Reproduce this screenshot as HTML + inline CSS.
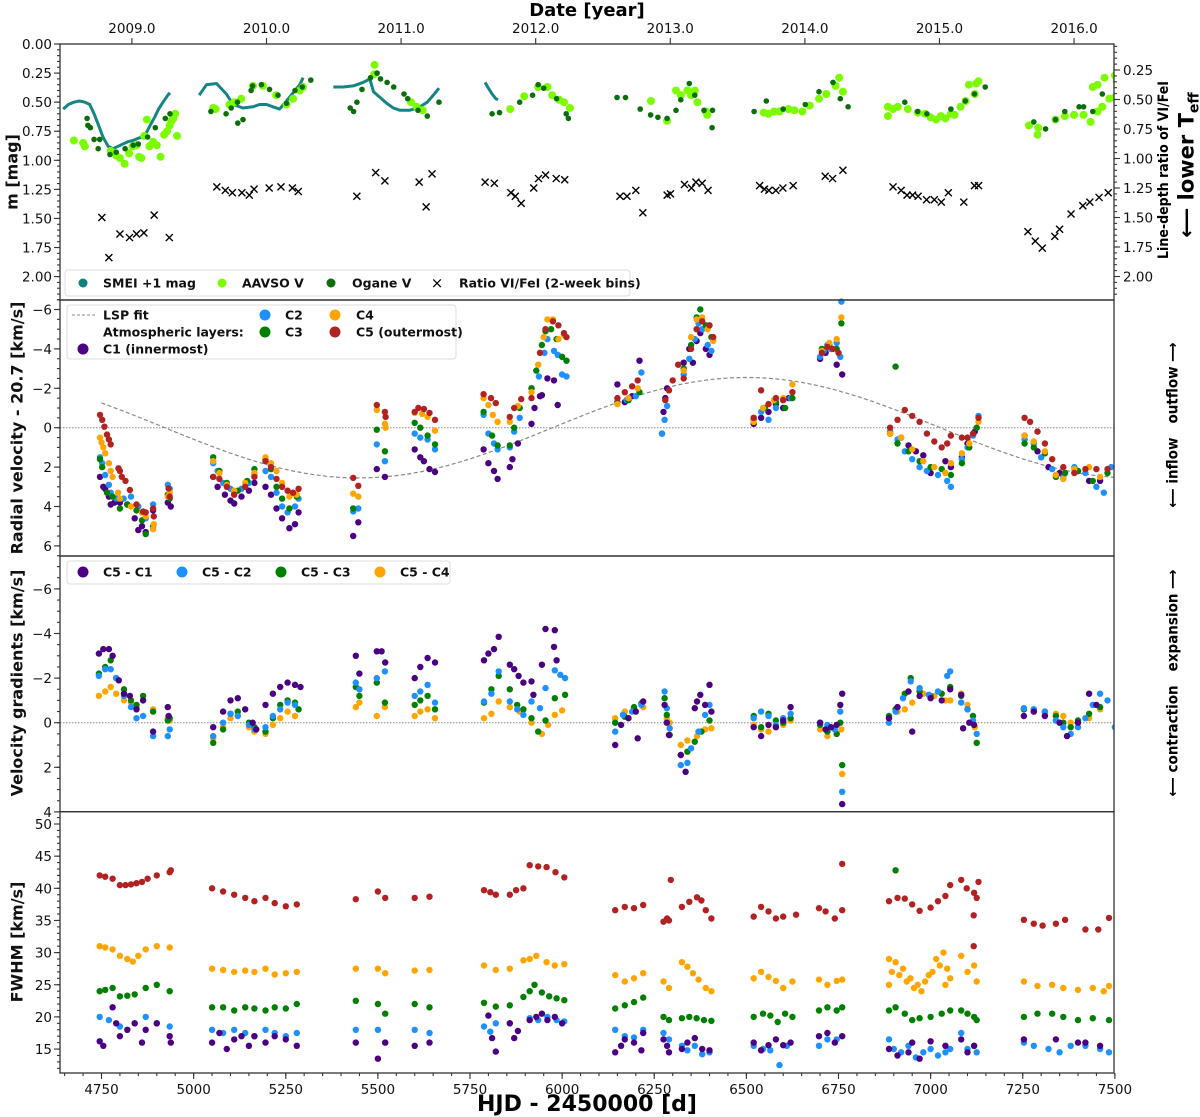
<!DOCTYPE html>
<html><head><meta charset="utf-8"><style>
html,body{margin:0;padding:0;background:#fff}
svg{display:block;font-family:"DejaVu Sans","Liberation Sans",sans-serif}
.tl{font-size:13.5px;fill:#111}
.lg{font-size:12.5px;font-weight:bold;fill:#111}
.al{font-size:16px;font-weight:bold;fill:#111}
</style></head><body>
<svg id="chart" width="1200" height="1117" viewBox="0 0 1200 1117" xmlns="http://www.w3.org/2000/svg">
<rect x="0" y="0" width="1200" height="1117" fill="#fff"/>
<g id="marks"></g>
<g id="axes"></g>
<text x="587" y="16" text-anchor="middle" font-size="18" font-weight="bold">Date [year]</text>
<text x="587" y="1111" text-anchor="middle" font-size="22" font-weight="bold">HJD - 2450000 [d]</text>
<text class="al" transform="translate(12,172) rotate(-90)" text-anchor="middle" dy="0.35em">m [mag]</text>
<text class="al" transform="translate(17,428) rotate(-90)" text-anchor="middle" dy="0.35em">Radial velocity - 20.7 [km/s]</text>
<text class="al" transform="translate(17,683) rotate(-90)" text-anchor="middle" dy="0.35em">Velocity gradients [km/s]</text>
<text class="al" transform="translate(17,942) rotate(-90)" text-anchor="middle" dy="0.35em">FWHM [km/s]</text>
<text transform="translate(1163,170) rotate(-90)" text-anchor="middle" dy="0.35em" font-size="14" font-weight="bold" font-stretch="condensed">Line-depth ratio of VI/FeI</text>
<text transform="translate(1186,165) rotate(-90)" text-anchor="middle" dy="0.35em" font-size="21" font-weight="bold">⟵ lower T<tspan font-size="14" dy="5">eff</tspan></text>
<text transform="translate(1172,425) rotate(-90)" text-anchor="middle" dy="0.35em" font-size="15" font-weight="bold" font-stretch="condensed" xml:space="preserve">⟵ inflow   outflow ⟶</text>
<text transform="translate(1172,683) rotate(-90)" text-anchor="middle" dy="0.35em" font-size="15" font-weight="bold" font-stretch="condensed" xml:space="preserve">⟵ contraction   expansion ⟶</text>
<g>
<rect x="65" y="270" width="565" height="26" rx="3" fill="#fff" fill-opacity="0.85" stroke="#ddd"/>
<circle cx="83" cy="283" r="4.5" fill="#0e8080"/>
<text class="lg" x="103" y="287.5">SMEI +1 mag</text>
<circle cx="222" cy="283" r="4.5" fill="#7cfc00"/>
<text class="lg" x="242" y="287.5">AAVSO V</text>
<circle cx="331" cy="283" r="4.5" fill="#0a6e0a"/>
<text class="lg" x="352" y="287.5">Ogane V</text>
<text x="437" y="288" text-anchor="middle" font-size="15">×</text>
<text class="lg" x="459" y="287.5">Ratio VI/FeI (2-week bins)</text>
</g>
<g>
<rect x="67" y="305" width="389" height="54" rx="3" fill="#fff" fill-opacity="0.85" stroke="#ddd"/>
<line x1="72" y1="315" x2="96" y2="315" stroke="#888" stroke-dasharray="3,2"/>
<text class="lg" x="103" y="319.5">LSP fit</text>
<text class="lg" x="103" y="336.5">Atmospheric layers:</text>
<circle cx="83" cy="349" r="5.5" fill="#4b0082"/>
<text class="lg" x="103" y="353.5">C1 (innermost)</text>
<circle cx="265" cy="315" r="5.5" fill="#1e90ff"/>
<text class="lg" x="285" y="319.5">C2</text>
<circle cx="265" cy="332" r="5.5" fill="#008000"/>
<text class="lg" x="285" y="336.5">C3</text>
<circle cx="335" cy="315" r="5.5" fill="#ffa500"/>
<text class="lg" x="356" y="319.5">C4</text>
<circle cx="335" cy="332" r="5.5" fill="#b22222"/>
<text class="lg" x="356" y="336.5">C5 (outermost)</text>
</g>
<g>
<rect x="67" y="561" width="383" height="23" rx="3" fill="#fff" fill-opacity="0.85" stroke="#ddd"/>
<circle cx="83" cy="572" r="5.5" fill="#4b0082"/>
<text class="lg" x="103" y="576.5">C5 - C1</text>
<circle cx="182" cy="572" r="5.5" fill="#1e90ff"/>
<text class="lg" x="202" y="576.5">C5 - C2</text>
<circle cx="281" cy="572" r="5.5" fill="#008000"/>
<text class="lg" x="301" y="576.5">C5 - C3</text>
<circle cx="380" cy="572" r="5.5" fill="#ffa500"/>
<text class="lg" x="400" y="576.5">C5 - C4</text>
</g>
</svg>
<script>
const xTicks=[4750,5000,5250,5500,5750,6000,6250,6500,6750,7000,7250,7500];
const yearTicks=[2009,2010,2011,2012,2013,2014,2015,2016];
const magTicks=[0,0.25,0.5,0.75,1,1.25,1.5,1.75,2];
const ratioTicks=[0.25,0.5,0.75,1,1.25,1.5,1.75,2];
const rvTicks=[-6,-4,-2,0,2,4,6];
const gradTicks=[-6,-4,-2,0,2,4];
const fwhmTicks=[15,20,25,30,35,40,45,50];
const lspParams=[2.55,6500,2104];

const smei1=[[4646,0.56],[4660,0.52],[4675,0.5],[4690,0.49],[4705,0.5],[4718,0.52],[4730,0.6],[4742,0.7],[4754,0.8],[4768,0.88],[4781,0.9],[4795,0.88],[4808,0.86],[4822,0.84],[4835,0.83],[4850,0.81],[4862,0.8],[4872,0.76],[4882,0.7],[4894,0.63],[4905,0.56],[4917,0.5],[4930,0.44],[4936,0.42]];
const smei2=[[5015,0.44],[5035,0.35],[5062,0.34],[5089,0.43],[5107,0.52],[5134,0.55],[5161,0.54],[5179,0.52],[5198,0.52],[5215,0.54],[5233,0.56],[5252,0.49],[5270,0.42],[5288,0.35],[5297,0.29]];
const smei3=[[5379,0.37],[5406,0.37],[5433,0.36],[5460,0.33],[5478,0.3],[5488,0.41],[5506,0.46],[5524,0.51],[5542,0.55],[5560,0.57],[5585,0.57],[5609,0.55],[5634,0.5],[5653,0.43],[5666,0.38]];
const smei4=[[5791,0.33],[5800,0.38],[5810,0.43],[5820,0.47],[5826,0.48]];
const aavso=[[4675,0.83],[4700,0.85],[4705,0.88],[4775,0.92],[4790,0.96],[4800,0.98],[4813,1.03],[4825,0.94],[4835,0.88],[4845,0.87],[4852,0.97],[4858,0.98],[4866,0.79],[4873,0.65],[4880,0.88],[4890,0.84],[4900,0.87],[4910,0.97],[4920,0.78],[4928,0.75],[4935,0.7],[4940,0.66],[4945,0.64],[4950,0.6],[4955,0.79],
[5053,0.55],[5060,0.56],[5097,0.52],[5110,0.5],[5129,0.47],[5161,0.36],[5188,0.36],[5224,0.44],[5252,0.52],[5270,0.47],[5288,0.4],[5297,0.37],
[5491,0.18],[5490,0.26],[5590,0.5],[5605,0.54],[5622,0.57],
[5859,0.56],[5897,0.45],[5935,0.37],[5960,0.37],[5973,0.44],[5992,0.48],[6005,0.5],[6021,0.55],
[6241,0.49],[6285,0.66],[6309,0.4],[6322,0.44],[6340,0.4],[6350,0.44],[6360,0.4],[6367,0.5],[6390,0.58],[6394,0.61],
[6547,0.59],[6560,0.6],[6575,0.58],[6590,0.58],[6614,0.56],[6630,0.57],[6652,0.58],[6672,0.53],[6697,0.47],[6717,0.43],[6742,0.36],[6752,0.29],[6762,0.41],
[6884,0.54],[6884,0.62],[6898,0.56],[6911,0.54],[6938,0.56],[6965,0.59],[6985,0.6],[7000,0.63],[7015,0.65],[7028,0.62],[7040,0.64],[7055,0.6],[7065,0.61],[7081,0.54],[7095,0.49],[7104,0.35],[7120,0.43],[7124,0.34],[7130,0.32],
[7267,0.7],[7290,0.78],[7292,0.72],[7339,0.65],[7364,0.62],[7389,0.61],[7415,0.61],[7434,0.67],[7440,0.37],[7453,0.58],[7453,0.35],[7466,0.54],[7472,0.29],[7485,0.47],[7500,0.46],[7500,0.27],[7505,0.32]];
const ogane=[[4711,0.64],[4713,0.7],[4720,0.72],[4730,0.82],[4741,0.9],[4745,0.82],[4773,0.95],[4790,0.93],[4814,0.9],[4836,0.87],[4850,0.86],[4875,0.8],[4896,0.72],[4923,0.64],[4936,0.6],
[5047,0.58],[5088,0.6],[5102,0.55],[5120,0.68],[5134,0.65],[5119,0.5],[5156,0.4],[5160,0.36],[5184,0.35],[5206,0.39],[5229,0.44],[5252,0.51],[5275,0.4],[5295,0.37],[5318,0.31],
[5425,0.55],[5434,0.58],[5443,0.5],[5457,0.39],[5480,0.29],[5498,0.25],[5507,0.3],[5525,0.33],[5543,0.37],[5571,0.43],[5581,0.47],[5609,0.57],[5634,0.62],[5666,0.5],
[5810,0.6],[5830,0.59],[5885,0.5],[5920,0.44],[5935,0.35],[5950,0.38],[5985,0.47],[6011,0.6],[6017,0.64],
[6149,0.46],[6172,0.46],[6212,0.56],[6240,0.61],[6260,0.63],[6285,0.64],[6309,0.57],[6322,0.48],[6345,0.34],[6360,0.44],[6385,0.57],[6408,0.57],[6407,0.72],
[6521,0.58],[6554,0.49],[6600,0.56],[6660,0.52],[6697,0.41],[6735,0.33],[6755,0.47],[6776,0.54],
[6930,0.5],[6965,0.58],[6990,0.6],[7055,0.56],[7094,0.49],[7119,0.43],[7148,0.37],
[7280,0.67],[7312,0.73],[7339,0.65],[7364,0.58],[7403,0.54],[7415,0.54],[7440,0.58],[7466,0.43]];
const ratio=[[4751,1.5],[4770,1.84],[4800,1.64],[4826,1.67],[4845,1.64],[4865,1.63],[4893,1.48],[4934,1.67],
[5063,1.24],[5086,1.27],[5105,1.29],[5131,1.29],[5151,1.31],[5164,1.26],[5205,1.25],[5237,1.24],[5268,1.25],[5284,1.28],
[5443,1.32],[5494,1.12],[5519,1.19],[5612,1.2],[5631,1.41],[5647,1.13],
[5791,1.2],[5816,1.21],[5861,1.29],[5873,1.32],[5889,1.38],[5923,1.25],[5936,1.17],[5955,1.14],[5984,1.17],[6007,1.18],
[6157,1.32],[6176,1.32],[6200,1.27],[6219,1.46],[6285,1.31],[6294,1.3],[6332,1.22],[6351,1.25],[6363,1.2],[6380,1.21],[6396,1.27],
[6536,1.23],[6549,1.26],[6561,1.27],[6580,1.27],[6599,1.25],[6627,1.23],[6714,1.15],[6734,1.17],[6762,1.1],
[6898,1.24],[6920,1.27],[6936,1.31],[6951,1.31],[6966,1.32],[6989,1.35],[7010,1.35],[7029,1.37],[7048,1.29],[7090,1.37],[7119,1.23],[7130,1.23],
[7264,1.62],[7284,1.7],[7303,1.76],[7337,1.66],[7350,1.6],[7381,1.47],[7413,1.4],[7432,1.37],[7457,1.33],[7482,1.29]];

const rvC5=[[4746,-0.65],[4752,-0.4],[4758,-0.05],[4765,0.35],[4770,0.6],[4775,0.85],[4796,2.06],[4800,2.2],[4805,2.49],[4815,2.7],[4827,3.16],[4845,3.9],[4863,4.26],[4870,4.3],[4890,4.1],[4892,4.5],[4932,3.08],[4935,3.5],
[5053,2.5],[5070,2.6],[5090,3.0],[5110,3.4],[5140,3.0],[5165,2.5],[5195,1.7],[5210,2.0],[5225,2.6],[5240,3.0],[5255,3.2],[5270,3.3],[5285,3.1],
[5433,2.55],[5447,2.95],[5497,-1.15],[5519,-0.8],[5521,-0.55],[5600,-0.8],[5610,-1.0],[5625,-0.95],[5640,-0.75],[5655,-0.4],
[5787,-1.7],[5807,-1.5],[5820,-1.25],[5858,-0.55],[5870,-1.0],[5889,-1.45],[5917,-1.5],[5940,-3.8],[5955,-5.0],[5975,-5.4],[5990,-5.2],[6005,-4.8],[6012,-4.6],
[6150,-1.5],[6170,-1.8],[6190,-2.1],[6205,-2.4],[6280,-1.4],[6290,-1.9],[6300,-2.4],[6315,-3.2],[6330,-2.5],[6350,-4.0],[6365,-5.0],[6380,-5.4],[6400,-5.2],[6410,-4.6],
[6520,-0.5],[6540,-1.9],[6560,-1.2],[6580,-1.5],[6600,-1.4],[6625,-1.8],[6705,-3.8],[6720,-4.1],[6735,-4.0],[6750,-3.8],
[6890,0.0],[6910,-0.4],[6930,-0.9],[6950,-0.6],[6970,-0.3],[6990,0.3],[7010,0.7],[7030,1.0],[7045,0.8],[7055,0.4],[7085,0.5],[7100,0.5],[7115,0.3],[7130,-0.5],
[7255,-0.5],[7270,-0.3],[7290,0.2],[7310,0.8],[7330,1.6],[7360,2.0],[7390,2.3],[7420,2.1],[7450,2.1],[7480,2.1]];
const rvC4=[[4746,0.5],[4750,0.75],[4755,1.0],[4760,1.3],[4770,1.8],[4775,2.2],[4780,2.5],[4795,3.3],[4800,3.6],[4830,4.0],[4860,4.3],[4870,4.5],[4890,5.15],[4892,4.9],[4930,3.5],[4935,3.3],
[5053,1.7],[5070,2.3],[5090,2.9],[5110,3.2],[5140,2.8],[5165,2.3],[5195,1.5],[5210,1.8],[5225,2.2],[5240,2.8],[5260,3.5],[5280,3.4],
[5433,3.35],[5447,3.5],[5497,-0.9],[5519,-0.2],[5521,0.0],[5600,-0.75],[5620,-0.7],[5635,-0.55],[5655,0.15],
[5787,-1.5],[5800,-1.15],[5812,-0.65],[5825,-0.3],[5858,-0.3],[5880,-1.1],[5917,-1.8],[5935,-3.2],[5950,-4.6],[5960,-5.5],[5975,-5.5],[5990,-4.5],[6005,-4.7],
[6150,-1.2],[6180,-1.5],[6205,-2.0],[6330,-2.9],[6350,-4.6],[6365,-5.5],[6380,-5.6],[6395,-5.0],[6410,-4.4],
[6520,-0.3],[6545,-1.0],[6575,-1.4],[6600,-1.5],[6625,-2.2],[6705,-3.9],[6725,-4.3],[6745,-4.5],[6758,-5.6],
[6890,0.3],[6920,0.5],[6950,1.1],[6980,1.7],[7010,2.0],[7040,2.3],[7055,1.8],[7085,1.3],[7105,0.8],[7130,-0.3],
[7255,0.4],[7280,0.7],[7310,1.2],[7340,2.4],[7360,2.6],[7390,2.1],[7430,2.0],[7460,2.5]];
const rvC3=[[4746,1.6],[4752,2.0],[4765,3.3],[4780,3.5],[4800,4.1],[4820,3.9],[4845,4.2],[4860,4.7],[4870,5.4],[4890,5.0],[4930,3.4],[4935,3.6],
[5053,1.5],[5070,2.2],[5090,2.8],[5120,3.2],[5145,2.7],[5165,2.1],[5195,1.6],[5210,2.1],[5225,3.0],[5240,3.6],[5260,4.1],[5280,3.5],
[5433,4.1],[5497,0.1],[5519,1.2],[5600,-0.25],[5615,0.0],[5635,0.4],[5655,0.85],
[5787,-0.8],[5810,0.4],[5825,0.9],[5858,0.9],[5870,0.0],[5885,-1.0],[5917,-2.0],[5930,-2.9],[5945,-4.2],[5955,-4.9],[5970,-5.0],[5985,-4.5],[6000,-3.6],[6012,-3.4],
[6150,-1.3],[6180,-1.4],[6210,-1.8],[6330,-3.0],[6350,-4.2],[6365,-5.6],[6375,-6.0],[6390,-5.2],[6405,-4.6],
[6520,-0.4],[6550,-1.0],[6580,-1.3],[6605,-1.0],[6625,-1.5],[6705,-4.0],[6725,-4.2],[6745,-4.0],[6758,-5.3],
[6890,0.3],[6905,-3.1],[6910,0.8],[6940,1.2],[6970,1.7],[7000,2.0],[7030,2.1],[7055,2.4],[7085,1.8],[7105,1.0],[7125,0.0],
[7255,0.8],[7280,1.0],[7310,1.3],[7340,2.5],[7365,2.3],[7400,2.2],[7440,2.7],[7480,2.3]];
const rvC2=[[4746,1.5],[4752,1.8],[4760,2.4],[4770,2.9],[4775,3.3],[4790,3.6],[4810,3.6],[4830,3.5],[4850,4.0],[4860,4.3],[4870,4.6],[4890,3.9],[4930,2.9],[4935,3.1],
[5053,1.8],[5065,2.2],[5080,2.8],[5100,3.1],[5110,3.3],[5130,3.1],[5150,2.8],[5165,2.4],[5195,2.2],[5210,2.5],[5225,3.3],[5240,4.0],[5255,4.3],[5275,4.0],[5285,3.6],
[5433,4.25],[5447,4.1],[5497,0.85],[5519,1.7],[5600,0.3],[5615,0.5],[5635,0.6],[5655,1.1],
[5787,-0.65],[5800,0.3],[5815,0.8],[5825,1.1],[5858,1.0],[5870,0.2],[5885,-0.5],[5917,-2.0],[5937,-2.6],[5952,-3.8],[5960,-4.5],[5978,-3.9],[5988,-3.7],[6000,-2.7],[6012,-2.6],
[6150,-1.3],[6175,-1.4],[6200,-1.6],[6215,-2.8],[6271,0.3],[6278,-0.4],[6285,-1.1],[6330,-2.7],[6345,-3.5],[6360,-4.5],[6370,-5.3],[6380,-5.0],[6395,-4.2],[6405,-3.9],
[6520,-0.5],[6540,-0.8],[6560,-0.4],[6580,-1.0],[6600,-1.4],[6620,-1.5],[6700,-3.6],[6710,-3.9],[6720,-4.2],[6730,-4.0],[6745,-4.3],[6755,-3.6],[6758,-6.4],
[6890,0.2],[6910,0.6],[6930,1.2],[6950,1.6],[6970,2.0],[6990,2.2],[7020,2.4],[7045,2.7],[7055,3.0],[7085,1.6],[7100,1.0],[7115,0.4],[7130,-0.6],
[7255,0.6],[7280,0.8],[7300,1.5],[7330,2.1],[7360,2.5],[7390,2.0],[7420,2.3],[7450,3.0],[7470,3.3],[7490,2.0]];
const rvC1=[[4746,2.5],[4755,3.0],[4760,3.1],[4770,3.5],[4775,3.9],[4785,3.8],[4800,3.8],[4820,3.9],[4840,4.6],[4850,5.2],[4860,5.0],[4870,5.3],[4890,4.2],[4930,3.8],[4938,4.0],
[5053,2.5],[5065,3.0],[5085,3.4],[5100,3.7],[5110,3.85],[5130,3.5],[5150,3.2],[5165,2.8],[5195,3.0],[5210,3.4],[5225,4.1],[5240,4.6],[5260,5.1],[5275,4.9],[5285,4.3],
[5433,5.5],[5447,4.8],[5497,2.1],[5519,2.5],[5600,1.1],[5615,1.5],[5625,1.7],[5640,2.1],[5655,2.25],
[5787,1.1],[5800,1.8],[5815,2.2],[5825,2.6],[5858,2.0],[5865,1.6],[5880,0.8],[5917,-0.2],[5925,-1.0],[5945,-1.65],[5940,-1.6],[5960,-2.5],[5978,-2.4],[5988,-1.15],
[6150,-2.2],[6170,-1.3],[6190,-1.6],[6210,-3.4],[6271,0.3],[6275,-0.8],[6280,-1.5],[6285,-2.0],[6330,-3.3],[6345,-4.0],[6355,-3.3],[6365,-4.4],[6375,-4.8],[6390,-4.0],[6400,-3.7],
[6520,-0.2],[6540,-0.5],[6560,-0.8],[6580,-1.2],[6600,-1.0],[6615,-1.5],[6700,-3.5],[6715,-3.8],[6730,-4.0],[6745,-3.2],[6760,-2.7],
[6890,0.3],[6920,0.5],[6940,0.9],[6960,1.2],[6980,1.4],[7000,2.3],[7040,1.7],[7055,2.0],[7085,1.5],[7100,0.8],[7120,0.2],
[7255,0.4],[7290,1.2],[7320,2.0],[7350,2.3],[7400,2.2],[7430,2.7],[7460,2.7]];

const grC1=[[4743,-3.1],[4755,-3.3],[4770,-3.3],[4780,-3.0],[4797,-1.9],[4811,-1.3],[4827,-1.2],[4845,-0.6],[4863,-1.0],[4890,0.4],[4930,-0.7],[4932,-0.3],
[5053,0.2],[5080,-0.5],[5100,-1.0],[5120,-1.1],[5140,-0.6],[5160,0.0],[5170,0.3],[5195,-0.8],[5215,-1.3],[5235,-1.6],[5255,-1.8],[5275,-1.7],[5290,-1.6],
[5440,-3.0],[5450,-2.2],[5497,-3.2],[5510,-3.2],[5520,-2.7],[5600,-2.0],[5615,-2.5],[5635,-2.9],[5655,-2.7],
[5788,-2.8],[5800,-3.1],[5815,-3.3],[5828,-3.85],[5858,-2.6],[5870,-2.4],[5882,-2.1],[5895,-1.8],[5917,-1.85],[5922,-1.25],[5945,-2.6],[5955,-4.2],[5980,-4.15],[5978,-3.4],[5985,-2.8],
[6144,1.0],[6160,0.1],[6180,-0.2],[6200,-0.5],[6205,0.7],[6220,-0.95],[6278,-0.8],[6284,0.0],[6290,0.55],[6322,1.45],[6335,2.2],[6360,-0.65],[6366,-0.95],[6375,-1.25],[6388,-0.8],[6400,-1.7],[6405,-0.5],
[6520,0.2],[6540,0.6],[6560,0.1],[6580,0.2],[6600,-0.1],[6620,-0.7],[6700,0.0],[6715,0.3],[6730,0.2],[6745,0.1],[6755,-0.8],[6760,-1.3],[6760,3.65],
[6887,-0.2],[6910,-0.7],[6940,-1.4],[6950,0.4],[6970,-1.2],[7000,-1.1],[7030,-1.0],[7053,-1.5],[7083,-1.25],[7088,0.25],[7105,0.0],[7118,0.1],
[7253,-0.3],[7280,-0.5],[7310,-0.3],[7350,0.0],[7370,0.6],[7400,0.0],[7430,-1.3],[7450,-0.8]];
const grC2=[[4743,-2.1],[4760,-2.4],[4775,-2.4],[4790,-2.0],[4811,-1.2],[4830,-0.7],[4845,-0.2],[4863,-0.3],[4890,0.6],[4930,0.6],[4935,0.3],
[5053,0.6],[5080,0.0],[5100,-0.4],[5120,-0.3],[5150,0.1],[5165,0.3],[5195,0.2],[5215,-0.3],[5235,-0.6],[5255,-0.9],[5275,-0.8],
[5440,-1.8],[5450,-1.5],[5497,-2.0],[5519,-2.3],[5600,-1.2],[5615,-1.4],[5635,-1.7],[5655,-0.9],
[5788,-0.95],[5808,-1.3],[5828,-2.3],[5858,-0.95],[5878,-0.6],[5895,-0.35],[5917,-0.95],[5940,-0.65],[5955,-1.55],[5980,-2.35],[5995,-2.15],[6008,-2.0],
[6144,0.4],[6165,-0.35],[6190,-0.5],[6215,-0.8],[6278,-1.4],[6284,-0.65],[6292,0.25],[6322,1.9],[6340,1.8],[6350,1.15],[6370,0.4],[6388,-0.35],[6400,-0.8],
[6520,-0.2],[6540,-0.5],[6560,-0.3],[6580,0.1],[6600,-0.2],[6620,-0.4],[6700,0.0],[6720,0.1],[6740,0.3],[6755,-0.5],[6760,3.1],
[6887,0.0],[6905,-0.5],[6925,-1.1],[6946,-1.85],[6970,-1.55],[6995,-1.25],[7020,-1.4],[7045,-2.1],[7053,-2.3],[7083,-0.9],[7100,-0.6],[7115,-0.1],[7125,0.5],
[7253,-0.65],[7280,-0.6],[7310,-0.5],[7340,-0.1],[7360,0.2],[7380,0.5],[7400,0.2],[7420,-0.2],[7440,-0.8],[7460,-1.3],[7480,-1.0],[7500,0.2]];
const grC3=[[4743,-2.2],[4760,-2.5],[4775,-2.8],[4790,-2.0],[4811,-1.5],[4830,-1.0],[4845,-0.8],[4863,-1.2],[4890,-0.5],[4930,-0.1],[4935,-0.2],
[5053,0.9],[5080,0.3],[5100,-0.4],[5120,-0.5],[5150,0.0],[5165,0.2],[5195,0.4],[5215,-0.2],[5235,-0.8],[5255,-1.0],[5275,-0.9],[5285,-0.6],
[5440,-1.6],[5450,-1.2],[5497,-1.8],[5519,-0.9],[5600,-0.8],[5615,-1.0],[5635,-1.2],[5655,-0.6],
[5788,-0.9],[5808,-1.5],[5828,-2.1],[5858,-1.5],[5878,-0.8],[5895,-0.6],[5917,-0.2],[5935,0.4],[5955,-0.1],[5980,-1.1],[6008,-1.25],
[6144,0.0],[6170,-0.27],[6195,-0.7],[6215,-0.87],[6278,-1.1],[6284,-0.35],[6292,0.55],[6322,1.45],[6340,1.3],[6360,0.85],[6378,0.4],[6400,-0.1],
[6520,-0.3],[6540,0.2],[6560,-0.4],[6580,-0.1],[6600,0.0],[6620,-0.2],[6700,0.1],[6720,0.4],[6745,0.5],[6755,0.0],[6760,1.9],
[6887,-0.3],[6905,-0.6],[6930,-1.3],[6946,-2.0],[6970,-1.4],[7000,-1.2],[7030,-1.3],[7053,-1.6],[7083,-1.2],[7100,-0.6],[7115,-0.3],[7125,0.9],
[7253,-0.6],[7280,-0.6],[7310,-0.5],[7340,-0.3],[7360,0.0],[7380,0.2],[7400,-0.1],[7430,-0.4],[7460,-0.7]];
const grC4=[[4743,-1.2],[4760,-1.4],[4775,-1.6],[4790,-1.3],[4811,-1.0],[4830,-0.9],[4845,-0.7],[4863,-1.0],[4890,-0.6],[4930,-0.2],[4935,-0.1],
[5053,0.7],[5080,0.2],[5100,-0.2],[5120,-0.3],[5150,0.2],[5165,0.4],[5195,0.5],[5215,0.1],[5235,-0.2],[5255,-0.5],[5275,-0.3],
[5440,-0.7],[5450,-0.9],[5497,-0.3],[5519,-0.7],[5600,-0.3],[5615,-0.5],[5635,-0.6],[5655,-0.2],
[5788,-0.2],[5808,-0.4],[5828,-0.95],[5858,-0.7],[5885,-0.5],[5917,0.0],[5945,0.5],[5962,0.1],[5980,-0.35],[6000,-0.55],
[6144,-0.2],[6170,-0.5],[6195,-0.64],[6220,-0.7],[6284,-0.2],[6292,0.0],[6322,1.0],[6340,0.8],[6366,0.6],[6388,0.3],[6405,0.25],
[6520,0.1],[6540,0.3],[6560,0.4],[6580,0.2],[6600,0.1],[6620,-0.1],[6700,0.3],[6720,0.6],[6745,0.5],[6758,0.3],[6760,2.3],
[6887,-0.2],[6910,-0.5],[6930,-0.6],[6950,-0.9],[6980,-1.3],[7010,-1.2],[7040,-1.0],[7053,-1.0],[7083,-1.3],[7100,-0.8],[7120,0.2],
[7253,-0.6],[7280,-0.5],[7310,-0.4],[7340,-0.4],[7360,-0.3],[7380,0.0],[7400,0.0],[7430,-0.2],[7460,-0.6]];

const fwC5=[[4745,42],[4760,41.8],[4780,41.5],[4800,40.5],[4815,40.5],[4830,40.6],[4845,40.8],[4860,41],[4875,41.5],[4900,42],[4935,42.5],[4938,42.8],
[5050,40],[5080,39.5],[5110,39],[5140,38.5],[5165,38],[5195,38.5],[5220,37.7],[5250,37.2],[5280,37.5],
[5440,38.3],[5500,39.5],[5520,38.5],[5600,38.5],[5640,38.7],
[5788,39.7],[5805,39.4],[5820,39],[5858,39],[5875,39.7],[5895,40],[5912,43.6],[5935,43.4],[5958,43.3],[5982,42.5],[6006,41.7],
[6144,36.6],[6170,37.1],[6195,36.9],[6220,37.4],[6275,34.8],[6285,35.3],[6290,35],[6295,41.3],[6325,37.1],[6345,37.9],[6366,38.6],[6378,38.1],[6390,36.6],[6405,35.3],
[6520,35.6],[6540,37.1],[6560,36.4],[6580,35.3],[6600,35.6],[6635,35.9],[6697,36.9],[6715,36.4],[6740,35.3],[6760,36.6],[6760,43.8],
[6887,38],[6910,38.5],[6930,38.4],[6950,37.5],[6970,36.5],[7000,37],[7020,38],[7040,38.8],[7053,40.5],[7083,41.3],[7098,40],[7118,39.3],[7125,38.5],[7117,35.8],[7117,31],[7130,41],
[7253,35.1],[7280,34.5],[7304,34.2],[7340,34.5],[7365,35.1],[7420,33.6],[7455,33.6],[7484,35.4]];
const fwC4=[[4745,31],[4760,30.8],[4780,30.5],[4800,29.5],[4820,29],[4835,28.6],[4850,29.5],[4870,30.5],[4900,31],[4935,30.8],
[5050,27.5],[5080,27.3],[5110,27],[5140,27.2],[5165,27],[5195,27.5],[5220,26.6],[5250,26.8],[5280,27],
[5440,27.5],[5500,27.5],[5520,26.8],[5600,27.2],[5640,27.3],
[5788,28],[5820,27.3],[5858,27.5],[5895,28.8],[5912,29],[5930,29.5],[5958,28.5],[5980,28],[6006,28.2],
[6144,26.5],[6170,25.5],[6195,26],[6220,26.8],[6275,25.5],[6290,24.5],[6325,28.5],[6340,27.8],[6355,26.8],[6370,25.8],[6390,24.5],[6405,24],
[6520,26],[6540,27],[6560,26.2],[6580,25.6],[6600,24.5],[6625,25.5],[6697,25.8],[6720,25],[6745,25.6],[6760,25.8],
[6887,25],[6887,29],[6895,27],[6905,28.5],[6915,26.5],[6925,27.5],[6935,25.5],[6945,26],[6955,24.5],[6965,25],[6975,24],[6985,25.5],[6995,26.5],[7005,27],[7015,29],[7025,28],[7035,30],[7040,25],[7045,27.5],[7053,26],
[7083,29.5],[7100,27],[7118,28],[7125,25.5],
[7253,25.5],[7290,24.8],[7330,25],[7360,24.5],[7400,24.2],[7440,24.5],[7470,24],[7484,24.8]];
const fwC3=[[4745,24],[4760,24.2],[4780,24.5],[4800,23.2],[4820,23.3],[4840,23.5],[4870,24.5],[4900,25],[4935,24],
[5050,21.5],[5080,21.5],[5110,21],[5140,21.5],[5165,21.3],[5195,21],[5220,21.5],[5250,21.3],[5280,22],
[5440,22.5],[5500,22],[5520,20.5],[5600,22],[5640,21.5],
[5788,22.2],[5820,21.6],[5858,21.8],[5895,23.1],[5912,24],[5925,25],[5945,23.8],[5965,23.2],[5985,22.9],[6006,22.6],
[6144,21.3],[6170,21.8],[6195,22.3],[6220,23],[6275,20],[6290,19.5],[6325,19.8],[6345,20],[6365,19.8],[6385,19.5],[6405,19.4],
[6520,20],[6545,20.5],[6565,20.2],[6585,19.2],[6605,20.5],[6625,20],[6697,21],[6720,21.5],[6745,21],[6760,21.5],
[6887,21],[6905,42.8],[6905,21.5],[6930,20.5],[6950,19.5],[6970,19.8],[7000,20],[7030,20.5],[7053,21],[7083,21],[7100,20.5],[7118,20],[7125,19.5],
[7253,20],[7290,20.5],[7330,20.5],[7360,20],[7400,19.5],[7440,19.8],[7484,19.5]];
const fwC2=[[4745,20],[4770,19.5],[4800,18.5],[4840,19],[4870,20],[4900,19],[4935,18.5],
[5050,18],[5080,17.5],[5110,18],[5140,17.5],[5165,17],[5195,18],[5220,17.5],[5250,17],[5280,17.5],
[5440,18],[5500,18],[5520,16],[5600,18],[5640,17.5],
[5788,18.5],[5805,17.7],[5820,19],[5858,19],[5912,19.8],[5935,19.5],[5960,20],[5985,19.5],[6006,19.3],
[6144,18],[6170,17],[6195,16.8],[6220,18],[6275,17.5],[6290,16.5],[6325,15.5],[6340,14.8],[6360,15.5],[6380,14.2],[6400,14.5],
[6520,15.5],[6545,15],[6565,14.8],[6590,12.5],[6610,15.5],[6697,15.5],[6720,16.5],[6745,16.5],
[6887,16.5],[6900,15],[6920,14.5],[6940,15.5],[6960,13.7],[6980,14.5],[7000,15],[7020,14],[7040,14.5],[7053,15],[7083,17.5],[7100,15],[7118,15.5],[7125,14.5],
[7253,16],[7280,15.5],[7320,15],[7350,14.5],[7380,15.5],[7420,15.5],[7460,15],[7484,14.5]];
const fwC1=[[4745,16.2],[4755,15.5],[4780,21.5],[4790,19],[4800,17],[4820,18],[4840,19],[4860,16],[4870,18],[4900,19],[4935,17],[4938,16],
[5050,16],[5070,17.5],[5090,15],[5110,16.5],[5130,17],[5150,15.5],[5165,17],[5195,16],[5220,17],[5250,16.5],[5280,15.5],
[5440,16],[5500,13.5],[5520,16],[5600,15.5],[5640,16],
[5800,20.2],[5810,16.7],[5820,14.6],[5858,19],[5870,16.7],[5880,17.8],[5912,19.5],[5930,20],[5945,20.5],[5960,19.5],[5980,20],[6000,19],
[6144,14.5],[6160,15.5],[6170,16.5],[6195,16],[6215,14.8],[6220,17.5],[6275,16.5],[6285,15.5],[6290,14.5],[6325,15],[6340,16],[6360,16.7],[6380,15],[6400,14.8],
[6520,16],[6540,14.8],[6560,15.6],[6580,16.5],[6600,15.6],[6620,16],[6697,17],[6720,17.5],[6740,16],[6760,17],
[6887,15],[6910,14],[6940,14.5],[6950,16],[6970,13.5],[7000,16.2],[7040,15.5],[7083,16.5],[7100,14.5],[7118,15.5],
[7253,16.5],[7340,16.5],[7400,16],[7420,16],[7460,15.5]];

const PL=60, PR=1114;
const P1={top:44,bot:300}, P2={top:300,bot:556}, P3={top:556,bot:811.7}, P4={top:811.7,bot:1073};
function X(t){return 101.5+(t-4750)*0.3685;}
function Ymag(v){return 44+v*116.3;}
function Yrat(v){return 40.5+v*118;}
function Yrv(v){return 427.7+v*19.7;}
function Ygr(v){return 722.7+v*22.3;}
function Yfw(v){return 824+(50-v)*6.43;}
const NS="http://www.w3.org/2000/svg";
const marks=document.getElementById('marks');
const axes=document.getElementById('axes');
function mk(tag,attrs,parent){const e=document.createElementNS(NS,tag);for(const k in attrs)e.setAttribute(k,attrs[k]);parent.appendChild(e);return e;}
function fmt(v,d){let s=v.toFixed(d);return s.replace('-','\u2212');}

const defs=mk('defs',{},marks);
const cp=mk('clipPath',{id:'clipAll'},defs);
mk('rect',{x:PL,y:P1.top,width:PR-PL,height:P4.bot-P1.top},cp);
const g=mk('g',{'clip-path':'url(#clipAll)'},marks);



for(const [y,nm] of [[Yrv(0),'rv-zero-line'],[Ygr(0),'gradient-zero-line']]){
  const l=mk('line',{x1:PL,x2:PR,y1:y,y2:y,stroke:'#888','stroke-width':1,'stroke-dasharray':'1.5,1.5'},g);
  
  
}
{
  let pts=[];
  for(let t=4750;t<=7500;t+=10){const v=-lspParams[0]*Math.cos(2*Math.PI*(t-lspParams[1])/lspParams[2]);pts.push(X(t).toFixed(1)+','+Yrv(v).toFixed(1));}
  const pl=mk('polyline',{points:pts.join(' '),fill:'none',stroke:'#888','stroke-width':1.2,'stroke-dasharray':'4,2.5'},g);
  
  
}
function dots(arr,yf,r,color,name){
  const gg=mk('g',{},g);
  
  
  for(const [t,v] of arr){
    const c=mk('circle',{cx:X(t).toFixed(1),cy:yf(v).toFixed(1),r:r,fill:color},gg);
    
    
  }
}
for(const [i,s] of [smei1,smei2,smei3,smei4].entries()){
  const pl=mk('polyline',{points:s.map(p=>X(p[0]).toFixed(1)+','+Ymag(p[1]).toFixed(1)).join(' '),fill:'none',stroke:'#138585','stroke-width':3,'stroke-linejoin':'round'},g);
  
  
}
dots(aavso,Ymag,4,'#7cfc00','aavso');
dots(ogane,Ymag,2.8,'#0a6e0a','ogane');
{
  const gg=mk('g',{},g);
  
  
  for(const [t,v] of ratio){
    const x=X(t),y=Yrat(v),d=3.5;
    const p=mk('path',{d:`M${x-d},${y-d}L${x+d},${y+d}M${x-d},${y+d}L${x+d},${y-d}`,stroke:'#000','stroke-width':1.4,fill:'none'},gg);
    
    
  }
}
dots(rvC1,Yrv,3.2,'#4b0082','rv-c1');
dots(rvC2,Yrv,3.2,'#1e90ff','rv-c2');
dots(rvC3,Yrv,3.2,'#008000','rv-c3');
dots(rvC4,Yrv,3.2,'#ffa500','rv-c4');
dots(rvC5,Yrv,3.2,'#b22222','rv-c5');
dots(grC4,Ygr,3.2,'#ffa500','grad-c5-c4');
dots(grC3,Ygr,3.2,'#008000','grad-c5-c3');
dots(grC2,Ygr,3.2,'#1e90ff','grad-c5-c2');
dots(grC1,Ygr,3.2,'#4b0082','grad-c5-c1');
dots(fwC5,Yfw,3.2,'#b22222','fwhm-c5');
dots(fwC4,Yfw,3.2,'#ffa500','fwhm-c4');
dots(fwC3,Yfw,3.2,'#008000','fwhm-c3');
dots(fwC2,Yfw,3.2,'#1e90ff','fwhm-c2');
dots(fwC1,Yfw,3.2,'#4b0082','fwhm-c1');

for(const [P,nm] of [[P1,'photometry-panel'],[P2,'rv-panel'],[P3,'gradient-panel'],[P4,'fwhm-panel']]){
  const r=mk('rect',{x:PL,y:P.top,width:PR-PL,height:P.bot-P.top,fill:'none',stroke:'#333','stroke-width':1.3},axes);
  
  
}
function tick(x1,y1,x2,y2,name){
  const l=mk('line',{x1,y1,x2,y2,stroke:'#333','stroke-width':1.1},axes);
  
  
}
function label(x,y,txt,anchor,name,cls){
  const t=mk('text',{x,y,'text-anchor':anchor,class:cls||'tl'},axes);
  t.textContent=txt;
  
  
}
function yaxis(ticks,yf,dec,lo,hi,minorStep,P,name){
  for(let v=lo;v<=hi+1e-9;v+=minorStep){const y=yf(v);if(y>=P.top-0.5&&y<=P.bot+0.5)tick(PL-3,y,PL,y,name+'-minor-tick');}
  for(const v of ticks){const y=yf(v);tick(PL-6,y,PL,y,name+'-tick');label(PL-8,y+5,fmt(v,dec),'end',name+'-tick-label');}
}
yaxis(magTicks,Ymag,2,0,2.2,0.05,P1,'mag-axis');
yaxis(rvTicks,Yrv,0,-6.5,6.5,0.5,P2,'rv-axis');
yaxis(gradTicks,Ygr,0,-7.5,4,0.5,P3,'gradient-axis');
yaxis(fwhmTicks,Yfw,0,12,51,1,P4,'fwhm-axis');
for(let v=0.05;v<=2.2;v+=0.05){const y=Yrat(v);if(y>=P1.top&&y<=P1.bot)tick(PR,y,PR+3,y,'ratio-axis-minor-tick');}
for(const v of ratioTicks){const y=Yrat(v);tick(PR,y,PR+6,y,'ratio-axis-tick');label(PR+9,y+5,v.toFixed(2),'start','ratio-axis-tick-label');}
for(let t=4650;t<=7500;t+=50){tick(X(t),P4.bot,X(t),P4.bot+3,'x-axis-minor-tick');}
for(const t of xTicks){tick(X(t),P4.bot,X(t),P4.bot+6,'x-axis-tick');label(X(t),P4.bot+21,String(t),'middle','x-axis-tick-label');}
for(const yr of yearTicks){const t=4832.5+(yr-2009)*365.25;tick(X(t),P1.top-6,X(t),P1.top,'year-axis-tick');label(X(t),P1.top-11,yr.toFixed(1),'middle','year-axis-tick-label');}
</script>
</body></html>
